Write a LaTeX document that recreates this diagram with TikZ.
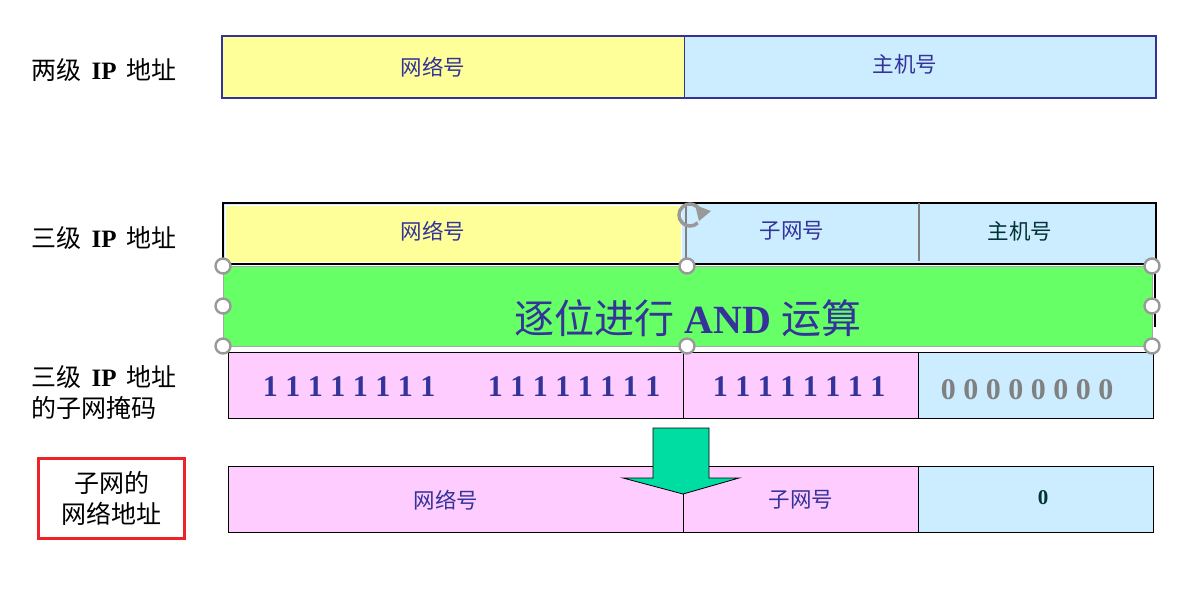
\documentclass[tikz,border=0pt]{standalone}
\usepackage{fontspec}
\setmainfont{Liberation Serif}
\newfontfamily\cjk{Noto Sans CJK SC}
\definecolor{ylw}{HTML}{FFFF99}
\definecolor{lblue}{HTML}{CCECFF}
\definecolor{pnk}{HTML}{FFCCFF}
\definecolor{grn}{HTML}{66FF66}
\definecolor{dblue}{HTML}{333399}
\definecolor{arrg}{HTML}{00DDA3}
\definecolor{dteal}{HTML}{003333}
\definecolor{redb}{HTML}{EE2229}
\usetikzlibrary{arrows.meta}
\newcommand{\gap}{\hspace{0.4em}}
\tikzset{
  cell/.style={draw=black, line width=1pt, inner sep=0pt, anchor=north west},
  lbl/.style={font=\fontsize{25}{31}\selectfont, text=black, anchor=west, align=left},
  ctext/.style={font=\cjk\fontsize{21.5}{24}\selectfont, text=dblue},
  bits/.style={font=\bfseries\fontsize{30}{34}\selectfont, text=dblue},
  hdl/.style={circle, draw=gray!80, fill=white, line width=2.4pt, minimum size=15pt, inner sep=0pt}
}
\begin{document}
\begin{tikzpicture}[x=1pt,y=-1pt]
\useasboundingbox (0,0) rectangle (1177,595);
% Row 1
\node[cell, draw=none, fill=ylw, minimum width=461pt, minimum height=61pt] (r1a) at (222,36) {};
\node[cell, draw=none, fill=lblue, minimum width=472pt, minimum height=61pt] (r1b) at (683,36) {};
\draw[dblue, line width=2pt] (r1a.north west) rectangle (r1b.south east);
\draw[dblue, line width=1pt] (r1a.north east) -- (r1a.south east);
\node[ctext] (t1a) at (433,67) {网络号};
\node[ctext] (t1b) at (905,64) {主机号};
\node[lbl] (L1) at (28,70) {{\cjk 两级}\gap\textbf{IP}\gap{\cjk 地址}};
% Row 2
\node[cell, fill=lblue, line width=2pt, minimum width=933pt, minimum height=61pt] (r2) at (222,202) {};
\node[cell, draw=white, fill=ylw, minimum width=456pt, minimum height=57pt] (r2a) at (225,205) {};
\draw[gray, line width=1.2pt] (686,205) -- (686,262);
\draw[gray, line width=1.2pt] (919,203) -- (919,261);
\draw[black, line width=2pt] (1155,263) -- (1155,327);
\node[ctext] (t2a) at (433,231) {网络号};
\node[ctext] (t2b) at (792,231) {子网号};
\node[ctext, text=dteal] (t2c) at (1020,231) {主机号};
\node[lbl] (L2) at (28,238) {{\cjk 三级}\gap\textbf{IP}\gap{\cjk 地址}};
% Green AND box
\node[cell, draw=gray!70, fill=grn, minimum width=929pt, minimum height=80pt] (g) at (223,266) {};
\node[font=\fontsize{40}{44}\selectfont, text=dblue] (gt) at (688,318) {{\cjk 逐位进行} \textbf{AND} {\cjk 运算}};
% Row 3
\node[cell, fill=pnk, minimum width=455pt, minimum height=66pt] (r3a) at (228,352) {};
\node[cell, fill=pnk, minimum width=235pt, minimum height=66pt] (r3b) at (683,352) {};
\node[cell, fill=lblue, minimum width=235pt, minimum height=66pt] (r3c) at (918,352) {};
\node[bits] (b1) at (349,387) {1 1 1 1 1 1 1 1};
\node[bits] (b2) at (574,387) {1 1 1 1 1 1 1 1};
\node[bits] (b3) at (799,387) {1 1 1 1 1 1 1 1};
\node[bits, text=gray] (b4) at (1027,390) {0 0 0 0 0 0 0 0};
\node[lbl, align=left] (L3) at (28,392) {{\cjk 三级}\gap\textbf{IP}\gap{\cjk 地址}\\{\cjk 的子网掩码}};
% Row 4
\node[cell, fill=pnk, minimum width=455pt, minimum height=66pt] (r4a) at (228,466) {};
\node[cell, fill=pnk, minimum width=235pt, minimum height=66pt] (r4b) at (683,466) {};
\node[cell, fill=lblue, minimum width=235pt, minimum height=66pt] (r4c) at (918,466) {};
\node[ctext] (t4a) at (446,500) {网络号};
\node[ctext] (t4b) at (801,500) {子网号};
\node[font=\bfseries\fontsize{21}{24}\selectfont, text=dteal] (t4c) at (1043,498) {0};
\node[draw=redb, line width=3pt, minimum width=146pt, minimum height=80pt, inner sep=0pt, anchor=north west, font=\cjk\fontsize{25}{31}\selectfont, align=center] (L4) at (37,457) {子网的\\网络地址};
% Arrow
\draw[fill=arrg, draw=black, line width=0.8pt] (653,428) -- (709,428) -- (709,478) -- (739,478) -- (683,494) -- (623,478) -- (653,478) -- cycle;
% selection handles
\foreach \p/\n in {{223,266}/h1,{687,266}/h2,{1152,266}/h3,{223,306}/h4,{1152,306}/h5,{223,346}/h6,{687,346}/h7,{1152,346}/h8}
  \node[hdl] (\n) at (\p) {};
% rotation handle
\draw[gray!80, line width=3.5pt] (690,215) ++(45:11) arc (45:330:11);
\fill[gray!80] (695,205) -- (711,211) -- (699,221) -- cycle;
\end{tikzpicture}
\end{document}
